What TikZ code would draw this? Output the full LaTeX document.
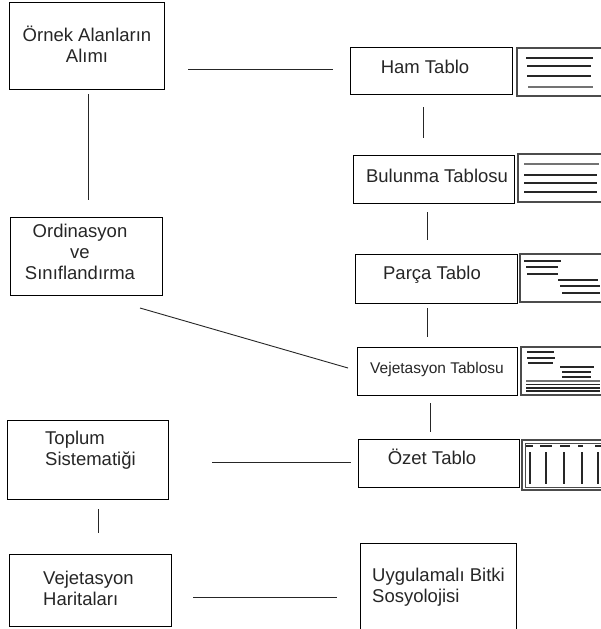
\documentclass[tikz,border=0pt]{standalone}
\usepackage{fontspec}
\setmainfont{Liberation Sans}
\usetikzlibrary{calc}
\begin{document}
\begin{tikzpicture}[x=1pt,y=-1pt,
  box/.style={draw=black, line width=0.9pt, inner sep=0pt, outer sep=0pt},
  txt/.style={font=\fontsize{18.5}{21}\selectfont, inner sep=0pt, text=black!85},
  smalltxt/.style={font=\fontsize{15.5}{18}\selectfont, inner sep=0pt, text=black!85},
  link/.style={line width=0.9pt, black!85},
  iconframe/.style={draw=black!70, line width=1.3pt},
  dk/.style={line width=1.2pt, black!85},
  gr/.style={line width=1.5pt, black!55}]
\useasboundingbox (0,0) rectangle (601,629);
\clip (0,0) rectangle (601,629);
\fill[white] (0,0) rectangle (601,629);

% left column boxes
\node[box, minimum width=155pt, minimum height=87pt] (orn) at (86.5,45.5) {};
\node[box, minimum width=152pt, minimum height=78pt] (ordi) at (86,256) {};
\node[box, minimum width=161pt, minimum height=79pt] (top) at (87.5,459.5) {};
\node[box, minimum width=162pt, minimum height=72pt] (har) at (90,590) {};
\node[box, minimum width=156pt, minimum height=107pt] (uyg) at (438,596.5) {};

% right column boxes
\node[box, minimum width=162pt, minimum height=47pt] (ham) at (431,70.5) {};
\node[box, minimum width=161pt, minimum height=48pt] (bul) at (433.5,179) {};
\node[box, minimum width=162pt, minimum height=49pt] (par) at (436,278.5) {};
\node[box, minimum width=160pt, minimum height=48pt] (vej) at (437,371) {};
\node[box, minimum width=161pt, minimum height=48pt] (oze) at (438.5,463) {};

% texts
\node[txt, align=center] (ornT) at (87,44) {Örnek Alanların\\Alımı};
\node[txt, align=center] (ordiT) at (80,252) {Ordinasyon\\ve\\Sınıflandırma};
\node[txt, align=left, anchor=west] (topT) at (45,450) {Toplum\\Sistematiği};
\node[txt, align=left, anchor=west] (harT) at (43,588) {Vejetasyon\\Haritaları};
\node[txt, align=left, anchor=west] (uygT) at (372,587) {Uygulamalı Bitki\\Sosyolojisi};
\node[txt] (hamT) at (425,67) {Ham Tablo};
\node[txt] (bulT) at (437,176) {Bulunma Tablosu};
\node[txt] (parT) at (432,275) {Parça Tablo};
\node[smalltxt] (vejT) at (437,369) {Vejetasyon Tablosu};
\node[txt] (ozeT) at (432,457) {Özet Tablo};

% connectors
\draw[link] ($(orn.east |- 0,69)+(24,0)$) -- ($(ham.west |- 0,69)+(-17,0)$);
\draw[link] ($(orn.south)+(1.5,5)$) -- ($(ordi.north)+(2,-17)$);
\draw[link] ($(ordi.south)+(54,13)$) -- ($(vej.west)+(-9,-3)$);
\draw[link] ($(ham.south)+(-8,13)$) -- ($(bul.north)+(-10.5,-17)$);
\draw[link] ($(bul.south)+(-6.5,9)$) -- ($(par.north)+(-9,-14)$);
\draw[link] ($(par.south)+(-9,5)$) -- ($(vej.north)+(-10,-10)$);
\draw[link] ($(vej.south)+(-7,8)$) -- ($(oze.north)+(-8.5,-7)$);
\draw[link] ($(top.east)+(44,2.5)$) -- ($(oze.west)+(-7,-1)$);
\draw[link] ($(top.south)+(10.5,10)$) -- ($(har.north)+(8,-21)$);
\draw[link] ($(har.east)+(22,7)$) -- ($(uyg.west)+(-23,0.5)$);

% table icons
% 1 Ham
\draw[iconframe] (517,48) rectangle (612,96);
\draw[dk] (526,58) -- (593,58);
\draw[dk] (527,66) -- (591,66);
\draw[dk] (527,76) -- (591,76);
\draw[gr] (528,87) -- (593,87);
% 2 Bulunma
\draw[iconframe] (518,154) rectangle (612,202);
\draw[gr] (524,164) -- (599,164);
\draw[dk] (524,175) -- (597,175);
\draw[dk] (524,183) -- (597,183);
\draw[dk] (524,192) -- (597,192);
% 3 Parca
\draw[iconframe] (520,254) rectangle (612,302);
\draw[dk] (524,261) -- (561,261);
\draw[dk] (526,267) -- (558,267);
\draw[dk] (527,274) -- (558,274);
\draw[dk] (558,280) -- (598,280);
\draw[dk] (560,286) -- (600,286);
\draw[dk] (562,293) -- (600,293);
% 4 Vejetasyon
\draw[iconframe] (521,347) rectangle (612,395);
\draw[dk] (527,352) -- (554,352);
\draw[dk] (527,358) -- (555,358);
\draw[dk] (528,363) -- (553,363);
\draw[dk] (560,367) -- (594,367);
\draw[dk] (562,372) -- (591,372);
\draw[dk] (562,377) -- (591,377);
\draw[gr] (526,381) -- (600,381);
\draw[dk] (526,384.5) -- (600,384.5);
\draw[dk] (526,388) -- (600,388);
\draw[dk] (526,391) -- (600,391);
% 5 Ozet
\draw[iconframe] (522,440) rectangle (612,490);
\draw[line width=0.9pt, black!70] (525,443) rectangle (612,487);
\foreach \a/\b in {526/533,540/552,560/570,578/583,595/601}
  \draw[dk] (\a,446) -- (\b,446);
\foreach \x in {530,546,564,582,598}
  \draw[dk] (\x,452) -- (\x,484);
\end{tikzpicture}
\end{document}
